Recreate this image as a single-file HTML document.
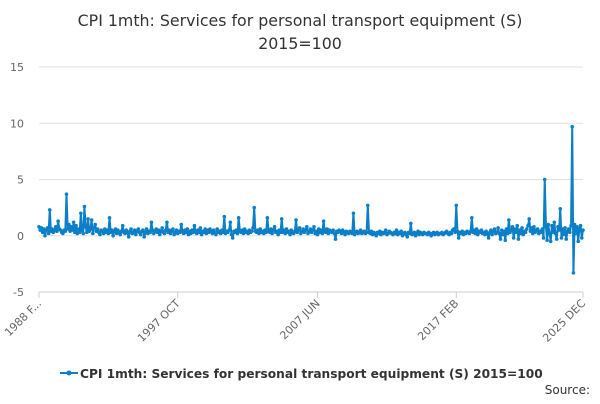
<!DOCTYPE html>
<html><head><meta charset="utf-8"><style>
body{margin:0;background:#fff;font-family:"DejaVu Sans",sans-serif;}
svg text{font-family:"DejaVu Sans",sans-serif;}
</style></head><body>
<svg id="chart" width="600" height="400">
<text x="300" y="26" text-anchor="middle" font-size="15.8" fill="#333">CPI 1mth: Services for personal transport equipment (S)</text>
<text x="300" y="49" text-anchor="middle" font-size="15.8" fill="#333">2015=100</text>
<g id="grid"></g><g id="xaxis"></g><g id="series"></g>
<g>
<line x1="60" y1="373" x2="78" y2="373" stroke="#0b7fc7" stroke-width="2"/>
<circle cx="69" cy="373" r="2.5" fill="#0b7fc7"/>
<text x="80" y="378" font-size="12.2" font-weight="bold" fill="#333">CPI 1mth: Services for personal transport equipment (S) 2015=100</text>
</g>
<text x="590" y="394" text-anchor="end" font-size="12" fill="#333">Source:</text>
</svg>
<script>
const yTicks=[-5,0,5,10,15];
const xTickLabels=["1988 F...","1997 OCT","2007 JUN","2017 FEB","2025 DEC"];
const xTickIndex=[0,116,233,349,455];
const values=[
0.8,0.5,0.7,0.3,0.6,0.0,0.5,0.7,0.2,2.3,0.4,0.6,
0.3,0.5,0.8,0.4,1.3,0.6,0.5,0.3,0.2,0.5,0.4,3.7,
0.6,1.0,0.4,0.8,0.5,1.2,0.3,0.9,0.2,0.6,0.3,2.0,
0.5,0.2,2.6,0.8,0.3,1.5,0.4,0.6,1.4,0.2,0.7,1.0,
0.4,0.6,0.3,0.1,0.5,0.4,0.2,0.6,0.3,0.5,0.2,1.6,
0.3,0.5,0.0,0.4,0.6,0.2,0.5,0.3,0.1,0.4,0.9,0.3,
0.2,0.5,0.3,-0.1,0.4,0.6,0.2,0.3,0.5,0.1,0.4,0.6,
0.3,0.1,0.4,0.5,-0.1,0.3,0.6,0.2,0.4,0.3,1.2,0.5,
0.2,0.4,0.6,0.3,0.5,0.1,0.4,0.7,0.3,0.2,0.5,1.2,
0.3,0.5,0.2,0.4,0.6,0.1,0.3,0.5,0.2,0.4,0.3,1.0,
0.4,0.2,0.5,0.3,0.6,0.1,0.4,0.2,0.5,0.3,0.9,0.4,
0.2,0.5,0.3,0.7,0.1,0.4,0.3,0.6,0.2,0.5,0.3,0.6,
0.4,0.2,0.5,0.3,0.1,0.6,0.3,0.4,0.2,0.5,0.3,1.7,
0.2,0.4,0.3,0.5,1.2,0.1,-0.2,0.4,0.3,0.5,0.2,1.6,
0.4,0.3,0.5,0.2,0.6,0.3,0.4,0.2,0.5,0.3,0.4,0.7,
2.5,0.4,0.3,0.5,0.2,0.6,0.3,0.4,0.2,0.5,0.3,1.6,
0.4,0.3,0.6,0.2,0.5,0.8,0.3,0.4,0.1,0.5,0.3,1.5,
0.3,0.5,0.2,0.6,0.3,0.4,0.1,0.5,0.3,0.2,0.4,1.4,
0.3,0.5,0.7,0.2,0.4,0.6,0.3,0.5,0.8,0.2,0.4,0.6,
0.3,0.5,0.8,0.2,0.4,0.1,0.6,0.3,0.5,0.2,1.3,0.4,
0.3,0.6,0.2,0.5,0.4,0.3,0.5,0.2,-0.3,0.4,0.3,0.5,
0.4,0.2,0.5,0.3,0.1,0.4,0.3,0.2,0.4,0.3,0.2,2.0,
0.1,0.3,0.4,0.2,0.3,0.5,0.2,0.3,0.4,0.2,0.3,2.7,
0.3,0.2,0.4,0.1,0.3,0.2,0.0,0.3,0.2,0.4,0.1,0.3,
0.2,0.3,0.5,0.1,0.2,0.4,0.3,0.2,0.1,0.3,0.2,0.5,
0.1,0.3,0.2,0.4,0.0,0.2,0.3,0.1,-0.1,0.3,0.2,1.1,
0.1,0.2,0.3,0.0,0.2,0.4,0.1,0.3,0.2,0.1,0.3,0.2,
0.2,0.1,0.3,0.2,0.0,0.2,0.3,0.1,0.2,0.3,0.1,0.2,
0.2,0.3,0.1,0.2,0.3,0.4,0.2,0.1,0.3,0.2,0.5,0.6,
0.3,2.7,0.4,-0.2,0.3,0.2,0.4,0.1,0.3,0.2,0.4,0.3,
0.2,0.4,1.6,0.3,0.5,0.2,0.6,0.1,0.4,0.3,0.5,0.2,
0.3,0.1,0.4,0.2,-0.2,0.3,0.5,0.1,0.4,0.6,0.2,0.3,
0.7,0.2,-0.3,0.5,0.1,0.4,-0.4,0.6,0.2,1.4,0.3,0.5,
0.8,-0.2,0.6,0.3,0.9,-0.3,0.5,0.2,0.7,0.1,0.4,0.3,
0.6,0.9,1.5,0.4,0.7,0.2,0.8,0.3,0.5,0.6,0.2,0.4,
0.3,0.6,-0.2,5.0,0.8,-0.4,1.0,0.2,-0.5,0.9,0.3,1.2,
0.2,-0.3,0.8,0.5,2.4,-0.2,0.6,0.1,0.7,-0.3,0.4,0.6,
0.3,0.9,9.7,-3.3,1.0,0.2,0.8,-0.5,0.6,0.9,-0.2,0.5
];
const NS="http://www.w3.org/2000/svg";
const X0=39,X1=583,Y0=292,Y1=67,YMIN=-5,YMAX=15;
function xs(i){return X0+(X1-X0)*i/(values.length-1);}
function ys(v){return Y0-(v-YMIN)/(YMAX-YMIN)*(Y0-Y1);}
function mk(tag,attrs,parent){const e=document.createElementNS(NS,tag);for(const k in attrs)e.setAttribute(k,attrs[k]);parent.appendChild(e);return e;}
const grid=document.getElementById('grid');
yTicks.forEach(t=>{
  const y=ys(t);
  const l=mk('line',{x1:X0,x2:X1,y1:y,y2:y,stroke:t===YMIN?'#ccc':'#e0e0e0','stroke-width':1},grid);
  
  
  const tx=mk('text',{x:24,y:y+4,'text-anchor':'end','font-size':11,fill:'#666'},grid);
  tx.textContent=t;
  
  
});
const xa=document.getElementById('xaxis');
xTickIndex.forEach((idx,k)=>{
  const x=xs(idx);
  const tk=mk('line',{x1:x,x2:x,y1:Y0,y2:Y0+6,stroke:'#ccc'},xa);
  
  
  const tx=mk('text',{x:x+3,y:Y0+12,'text-anchor':'end','font-size':11,fill:'#666',transform:`rotate(-45 ${x+3} ${Y0+12})`},xa);
  tx.textContent=xTickLabels[k];
  
  
});
const sg=document.getElementById('series');
const pts=values.map((v,i)=>xs(i).toFixed(2)+','+ys(v).toFixed(2)).join(' ');
const pl=mk('polyline',{points:pts,fill:'none',stroke:'#0b7fc7','stroke-width':2,'stroke-linejoin':'round'},sg);


values.forEach((v,i)=>{
  const c=mk('circle',{cx:xs(i),cy:ys(v),r:1.8,fill:'#0b7fc7'},sg);
  
  
});
</script>
</body></html>
